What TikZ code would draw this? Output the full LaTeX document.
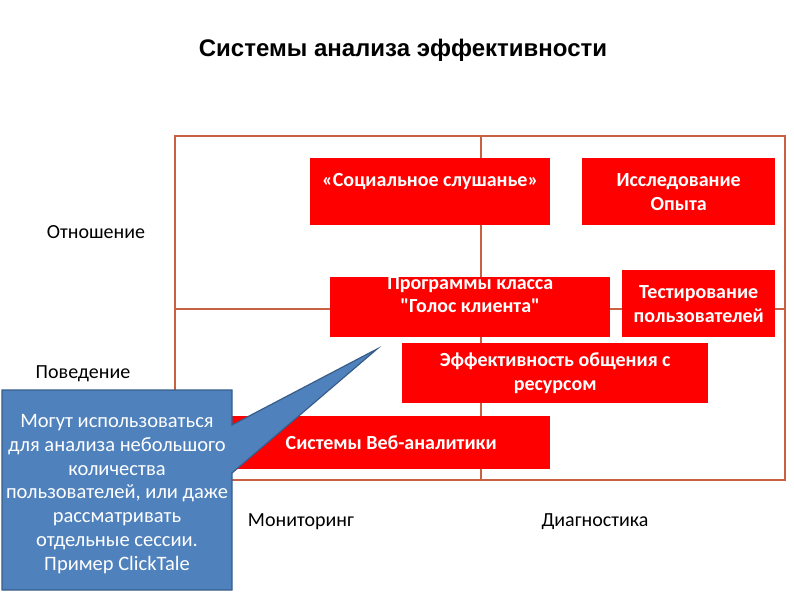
\documentclass[tikz,border=0pt]{standalone}
\usepackage{fontspec}
\setmainfont{Carlito}
\newfontfamily\boxfont{Carlito}
\newfontfamily\titlefont{Liberation Sans}
\usepackage{tikz}
\usetikzlibrary{positioning}
\definecolor{gridline}{RGB}{200, 96, 66}
\definecolor{boxred}{RGB}{255, 0, 0}
\definecolor{noteblue}{RGB}{79, 129, 189}
\definecolor{noteborder}{RGB}{56, 93, 138}
\tikzset{
  redbox/.style={
    rectangle, anchor=north west, inner sep=0pt,
    fill=boxred, draw=none,
    text=white, align=center,
    font=\boxfont\fontsize{20}{24}\selectfont\bfseries
  },
  boxtext/.style={
    inner sep=0pt, text=white, align=center,
    font=\boxfont\fontsize{20}{23}\selectfont\bfseries
  },
  axislabel/.style={
    inner sep=0pt, font=\fontsize{20}{22}\selectfont
  },
  notebox/.style={
    fill=noteblue, draw=noteborder, line width=1.2pt, line join=miter
  },
  notetext/.style={
    inner sep=0pt, text=white, align=center,
    font=\fontsize{20.5}{23.7}\selectfont
  },
  gridln/.style={draw=gridline, line width=2.4pt}
}

\begin{document}
\begin{tikzpicture}[x=1pt, y=-1pt]

  \useasboundingbox (0,0) rectangle (794,595);

  %% --- Title ---
  \node[font=\titlefont\fontsize{24}{28}\selectfont\bfseries] (title)
    at (403,50) {Системы анализа эффективности};

  %% --- Grid ---
  \draw[gridln] (175,136) rectangle (785,480);
  \draw[gridln] (481,136) -- (481,480);
  \draw[gridln] (175,309) -- (785,309);

  %% --- Axis labels ---
  \node[axislabel] (attitude)   at (96,232)  {Отношение};
  \node[axislabel] (behaviour)  at (83,374)  {Поведение};
  \node[axislabel] (monitoring) at (301,522) {Мониторинг};
  \node[axislabel] (diagnosis)  at (595,522) {Диагностика};

  %% --- Red boxes ---
  \node[redbox, minimum width=240pt, minimum height=67pt] (social)
    at (310,158) {};
  \node[boxtext, below=15pt of social.north] (socialtxt)
    {«Социальное слушанье»};

  \node[redbox, minimum width=193pt, minimum height=67pt] (research)
    at (582,158) {Исследование\\Опыта};

  \node[redbox, minimum width=280pt, minimum height=60pt] (voice)
    at (330,277) {};
  \node[boxtext, below=-1pt of voice.north] (voicetxt)
    {Программы класса\\"Голос клиента"};

  \node[redbox, minimum width=153pt, minimum height=67pt] (testing)
    at (622,270) {Тестирование\\пользователей};

  \node[redbox, minimum width=306pt, minimum height=60pt] (efficiency)
    at (402,343) {Эффективность общения с\\ресурсом};

  \node[redbox, minimum width=318pt, minimum height=53pt] (webstat)
    at (232,416) {Системы Веб-аналитики};

  %% --- Callout ---
  \coordinate (tip) at (377,349);
  \filldraw[notebox] (2,390) -- (232,390) -- (232,425) -- (tip)
    -- (232,473) -- (232,590) -- (2,590) -- cycle;
  \node[notetext] (note) at (117,494)
    {Могут использоваться\\для анализа небольшого\\количества\\
     пользователей, или даже\\рассматривать\\отдельные сессии.\\
     Пример ClickTale};

\end{tikzpicture}
\end{document}
